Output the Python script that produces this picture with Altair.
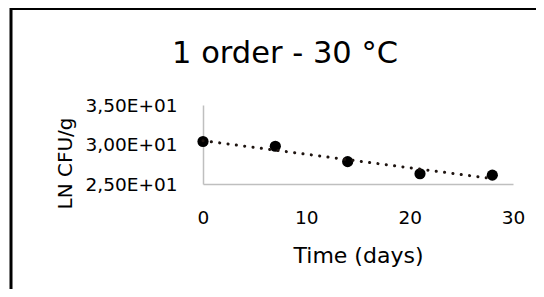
import altair as alt
import pandas as pd

days = [0, 7, 14, 21, 28]
ln_cfu = [30.38, 29.78, 27.83, 26.30, 26.12]
x_ticks = [0, 10, 20, 30]
y_ticks = [25, 30, 35]
y_tick_labels = ["2,50E+01", "3,00E+01", "3,50E+01"]
title_text = "1 order - 30 °C"
x_title = "Time (days)"
y_title = "LN CFU/g"

FONT = "DejaVu Sans"

df = pd.DataFrame({"Day": days, "Value": ln_cfu})

label_expr = (
    "[" + ",".join(f"'{l}'" for l in y_tick_labels) + "]"
    + "[indexof([" + ",".join(str(v) for v in y_ticks) + "], round(datum.value))]"
)

x_enc = alt.X(
    "Day:Q",
    scale=alt.Scale(domain=[0, 30], nice=False, zero=False),
    axis=alt.Axis(
        values=x_ticks, ticks=False, tickSize=0, grid=False,
        labelFlush=False, labelOverlap=False,
        domainColor="#bfbfbf", domainWidth=1.5,
        labelFont=FONT, labelFontSize=18.5, labelColor="#000000", labelPadding=24,
        title=x_title, titleFont=FONT, titleFontSize=22, titleFontWeight="normal",
        titleColor="#000000", titleBaseline="alphabetic", titleY=78,
    ),
)
y_enc = alt.Y(
    "Value:Q",
    scale=alt.Scale(domain=[25, 35], nice=False, zero=False),
    axis=alt.Axis(
        values=y_ticks, ticks=False, tickSize=0, grid=False, labelExpr=label_expr,
        labelFlush=False, labelOverlap=False, labelBound=False, labelSeparation=0,
        domainColor="#bfbfbf", domainWidth=1.5,
        labelFont=FONT, labelFontSize=18.5, labelColor="#000000", labelPadding=26,
        title=y_title, titleFont=FONT, titleFontSize=20, titleFontWeight="normal",
        titleColor="#000000", titleBaseline="alphabetic", titleX=-132, titleY=58,
        titleAlign="center",
    ),
)

base = alt.Chart(df)

points = base.mark_point(filled=True, size=125, color="#000000", opacity=1).encode(
    x=x_enc, y=y_enc
)

trend = (
    base.transform_regression("Day", "Value", method="linear")
    .mark_line(color="#1e1410", strokeWidth=3, strokeDash=[0.1, 8.3], strokeCap="round")
    .encode(x=x_enc, y=y_enc)
)

one = alt.Data(values=[{"t": title_text}])

title_mark = alt.Chart(one).mark_text(
    font=FONT, fontSize=30.5, color="#000000", align="center", baseline="alphabetic"
).encode(text="t:N", x=alt.value(82), y=alt.value(-42))

frame = alt.Chart(one).mark_rect(
    fillOpacity=0, stroke="#000000", strokeWidth=3
).encode(x=alt.value(-192), x2=alt.value(600), y=alt.value(-96.5), y2=alt.value(400))

chart = (
    alt.layer(points, trend, title_mark, frame)
    .properties(
        width=310, height=79,
        padding={"left": 195, "top": 97, "right": 23, "bottom": 105},
        autosize=alt.AutoSizeParams(type="none"),
        background="#ffffff",
    )
    .configure_view(stroke=None)
    .configure_axis(labelOverlap=False)
    .configure_axisY(labelOverlap=False)
)

chart.save("out.html", embed_options={"renderer": "svg", "actions": False})
